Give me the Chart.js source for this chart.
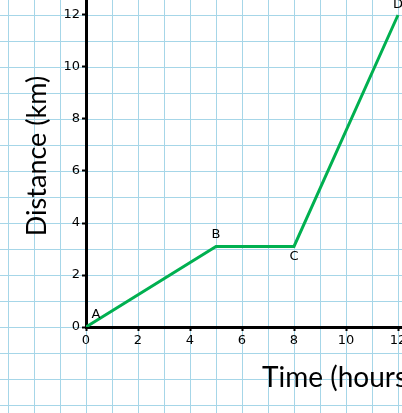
<!DOCTYPE html>
<html>
<head>
<meta charset="utf-8">
<script src="https://cdn.jsdelivr.net/npm/chart.js@4/dist/chart.umd.min.js"></script>
<style>
  html, body { margin: 0; padding: 0; overflow: hidden; background: #ffffff; width: 402px; height: 413px; }
  #wrap { position: absolute; left: 0; top: -15px; width: 590px; height: 428px; }
</style>
</head>
<body>
<div id="wrap"><canvas id="c"></canvas></div>
<script>
const timeHours = [0, 5, 8, 12];
const distanceKm = [0, 3.1, 3.1, 12];
const pointNames = ['A', 'B', 'C', 'D'];
const xTickLabels = ['0', '2', '4', '6', '8', '10', '12'];
const yTickLabels = ['0', '2', '4', '6', '8', '10', '12'];
const xTitle = 'Time (hours)';
const yTitle = 'Distance (km)';

const gridPaper = {
  id: 'gridPaper',
  beforeDraw(chart) {
    const {ctx, scales: {x, y}} = chart;
    ctx.save();
    ctx.fillStyle = '#ffffff';
    ctx.fillRect(0, 0, chart.width, chart.height);
    ctx.strokeStyle = '#a6d6e8';
    ctx.lineWidth = 1;
    for (let v = -6; v <= 24; v++) {
      const px = Math.round(x.getPixelForValue(v)) + 0.5;
      if (px >= 0 && px <= chart.width) {
        ctx.beginPath(); ctx.moveTo(px, 0); ctx.lineTo(px, chart.height); ctx.stroke();
      }
      const py = Math.round(y.getPixelForValue(v)) + 0.5;
      if (py >= 0 && py <= chart.height) {
        ctx.beginPath(); ctx.moveTo(0, py); ctx.lineTo(chart.width, py); ctx.stroke();
      }
    }
    ctx.restore();
  }
};

const pointLabels = {
  id: 'pointLabels',
  afterDatasetsDraw(chart) {
    const {ctx} = chart;
    const meta = chart.getDatasetMeta(0);
    const offs = [[10, -12], [0, -12], [0, 10], [0, -10]];
    ctx.save();
    ctx.font = '13px "DejaVu Sans"';
    ctx.fillStyle = '#000000';
    ctx.textAlign = 'center';
    ctx.textBaseline = 'middle';
    meta.data.forEach((el, i) => {
      ctx.fillText(pointNames[i], el.x + offs[i][0], el.y + offs[i][1]);
    });
    ctx.restore();
  }
};

new Chart(document.getElementById('c'), {
  type: 'line',
  data: {
    datasets: [{
      data: timeHours.map((t, i) => ({x: t, y: distanceKm[i]})),
      borderColor: '#00b050',
      borderWidth: 3,
      pointRadius: 0,
      tension: 0,
      fill: false
    }]
  },
  options: {
    responsive: true,
    maintainAspectRatio: false,
    animation: false,
    layout: { padding: 0, autoPadding: false },
    plugins: { legend: { display: false }, tooltip: { enabled: false } },
    scales: {
      x: {
        type: 'linear',
        min: 0,
        max: 504 / 26,
        afterFit(s) { s.height = 86; s.paddingLeft = 0; s.paddingRight = 0; },
        border: { display: true, color: '#000000', width: 3 },
        grid: { display: true, drawOnChartArea: false, drawTicks: true, tickLength: 4, tickWidth: 2, tickColor: '#000000' },
        ticks: {
          stepSize: 2,
          includeBounds: false,
          autoSkip: false,
          maxRotation: 0,
          padding: 2,
          color: '#000000',
          font: { family: 'DejaVu Sans', size: 13 },
          callback(v) { const s = String(v); return xTickLabels.includes(s) ? s : ''; }
        },
        title: {
          display: true,
          text: xTitle,
          color: '#000000',
          font: { family: 'Lato', size: 28 },
          padding: { top: 0, bottom: 18 }
        }
      },
      y: {
        type: 'linear',
        min: 0,
        max: 342 / 26,
        afterFit(s) { s.width = 86; s.paddingTop = 0; s.paddingBottom = 0; },
        border: { display: true, color: '#000000', width: 3 },
        grid: { display: true, drawOnChartArea: false, drawTicks: true, tickLength: 4, tickWidth: 2, tickColor: '#000000' },
        ticks: {
          stepSize: 2,
          includeBounds: false,
          autoSkip: false,
          padding: 2,
          color: '#000000',
          font: { family: 'DejaVu Sans', size: 13 },
          callback(v) { const s = String(v); return yTickLabels.includes(s) ? s : ''; }
        },
        title: {
          display: true,
          text: yTitle,
          color: '#000000',
          font: { family: 'Lato', size: 27 },
          padding: { top: 21, bottom: 0 }
        }
      }
    }
  },
  plugins: [gridPaper, pointLabels]
});
</script>
</body>
</html>
